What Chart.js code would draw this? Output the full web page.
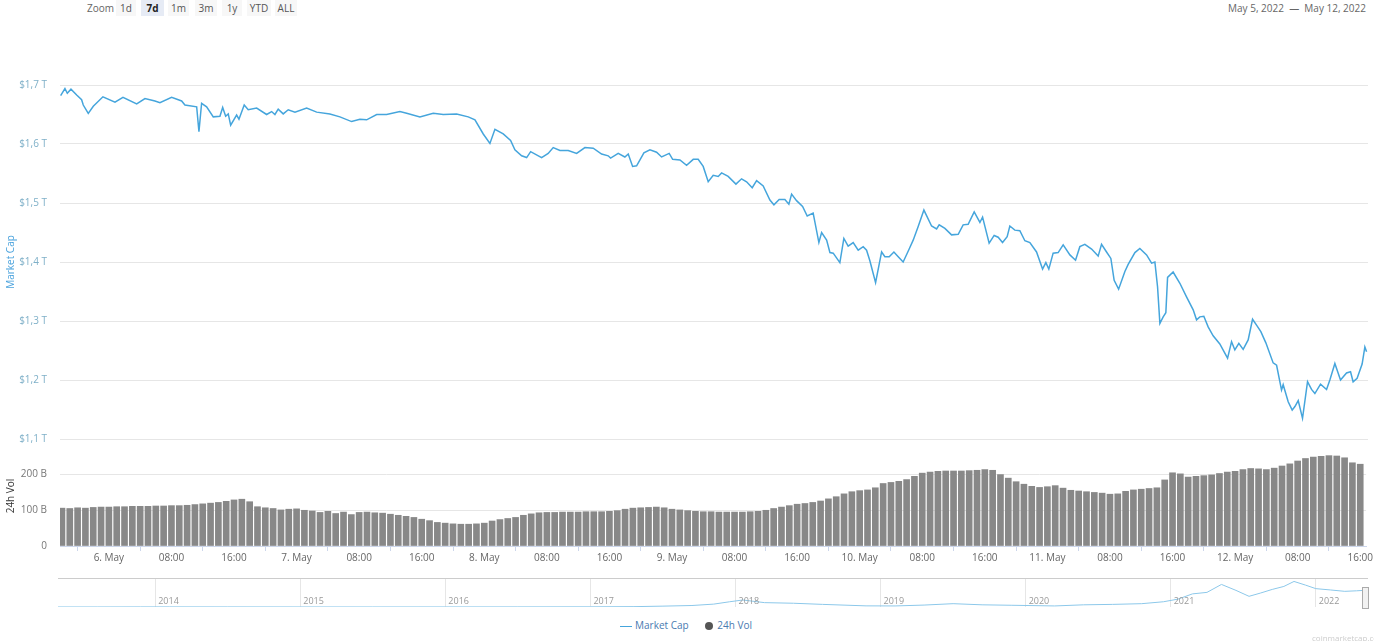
<!DOCTYPE html>
<html>
<head>
<meta charset="utf-8">
<script src="https://cdn.jsdelivr.net/npm/chart.js@4.4.0/dist/chart.umd.min.js"></script>
<style>
  body { margin: 0; background: #fff; font-family: "Open Sans", sans-serif; }
  #wrap { position: relative; width: 1374px; height: 641px; overflow: hidden; }
  canvas { position: absolute; left: 0; }
  .txt { position: absolute; font-size: 10px; color: #666; line-height: 16px; white-space: nowrap; }
  .btn { position: absolute; top: 0; height: 16px; font-size: 10px; line-height: 16px; color: #555;
         background: #f7f7f7; text-align: center; }
  .btn.on { background: #e6ebf5; color: #222; font-weight: bold; }
</style>
</head>
<body>
<div id="wrap">
  <div class="txt" style="left:87px;top:0">Zoom</div>
  <div class="btn" style="left:116px;width:20px">1d</div>
  <div class="btn on" style="left:141px;width:23px">7d</div>
  <div class="btn" style="left:168px;width:21px">1m</div>
  <div class="btn" style="left:195px;width:22px">3m</div>
  <div class="btn" style="left:222px;width:20px">1y</div>
  <div class="btn" style="left:247px;width:24px">YTD</div>
  <div class="btn" style="left:275px;width:22px">ALL</div>
  <div class="txt" style="right:8px;top:0">May 5, 2022 &nbsp;&mdash;&nbsp; May 12, 2022</div>

  <canvas id="capChart" width="1374" height="458" style="top:0"></canvas>
  <canvas id="volChart" width="1374" height="146" style="top:427px"></canvas>
  <canvas id="navChart" width="1374" height="42" style="top:570px"></canvas>

  <div style="position:absolute;left:58px;top:578px;width:1310px;height:1px;background:#ccc"></div>
  <div style="position:absolute;left:1362px;top:587px;width:5px;height:20px;background:#f2f2f2;border:1px solid #aaa"></div>

  <div class="txt" style="left:620px;top:617px;color:#4a7ab0;font-size:10px">
    <span style="display:inline-block;width:12px;height:1.5px;background:#45a5dc;vertical-align:middle;margin-right:3px"></span>Market Cap
    <span style="display:inline-block;width:8px;height:8px;border-radius:4px;background:#555;vertical-align:middle;margin:0 4px 0 14px"></span>24h Vol
  </div>
  <div class="txt" style="left:1312px;top:630px;color:#ccc;font-size:8px">coinmarketcap.com</div>
</div>

<script>
// Market cap, hours counted from 6 May 00:00
var capHours = [
  -6.17, -5.62, -5.32, -4.85, -4.12, -3.49, -3.28, -2.64, -2.00, -0.77,
  0.77, 1.79, 3.54, 4.60, 5.87, 6.51, 8.00, 9.28, 9.70, 11.20,
  11.49, 11.83, 12.47, 13.32, 14.17, 14.52, 14.90, 15.23, 15.54, 16.30,
  16.60, 17.27, 17.78, 18.86, 20.13, 20.77, 21.19, 21.61, 22.25, 22.89,
  23.75, 25.24, 26.52, 28.21, 29.49, 30.98, 32.04, 32.90, 34.18, 35.45,
  37.15, 38.01, 39.70, 41.40, 42.68, 44.39, 45.87, 46.73, 47.79, 48.64,
  49.28, 50.34, 51.28, 51.83, 52.69, 53.33, 53.84, 55.24, 56.08, 56.72,
  57.58, 58.64, 59.71, 60.77, 61.83, 62.90, 63.74, 64.05, 65.02, 65.87,
  66.30, 66.86, 67.37, 68.30, 69.07, 69.92, 70.56, 71.53, 71.97, 72.90,
  73.75, 74.60, 75.23, 75.87, 76.51, 77.15, 77.79, 78.22, 79.06, 80.05,
  80.77, 81.41, 82.13, 82.69, 83.53, 84.39, 84.90, 85.57, 86.30, 86.81,
  87.16, 87.79, 88.56, 89.15, 89.91, 90.64, 90.99, 91.63, 92.05, 92.47,
  93.32, 93.83, 94.38, 95.02, 95.66, 96.30, 96.73, 97.15, 97.88, 98.65,
  99.07, 99.62, 100.22, 100.77, 101.40, 102.17, 102.68, 103.32, 104.05, 105.03,
  105.67, 106.00, 106.73, 107.58, 108.43, 109.06, 109.70, 110.47, 111.20, 111.54,
  112.38, 113.02, 113.53, 114.09, 114.68, 115.02, 115.66, 116.30, 116.94, 117.58,
  118.43, 119.20, 119.62, 120.00, 120.55, 121.19, 121.83, 122.69, 123.41, 123.96,
  124.60, 125.46, 126.30, 126.73, 127.37, 127.92, 128.34, 128.91, 129.71, 130.13,
  130.99, 131.62, 132.48, 133.12, 133.54, 133.88, 134.18, 134.60, 134.94, 135.16,
  135.87, 136.73, 137.58, 138.43, 138.86, 139.28, 139.79, 140.34, 140.98, 141.83,
  142.82, 143.33, 143.75, 144.26, 144.81, 145.45, 146.01, 146.52, 147.07, 147.71,
  148.64, 149.08, 149.71, 149.92, 150.56, 151.07, 151.42, 151.84, 152.39, 153.03,
  153.54, 153.97, 154.69, 155.46, 155.88, 156.52, 157.24, 158.01, 158.52, 158.85,
  159.36, 160.00, 160.35, 160.57
];
// trillions of USD
var marketCap = [
  1.682, 1.694, 1.686, 1.693, 1.683, 1.675, 1.666, 1.652, 1.664, 1.680,
  1.671, 1.679, 1.668, 1.677, 1.673, 1.670, 1.679, 1.673, 1.666, 1.663,
  1.621, 1.669, 1.663, 1.646, 1.647, 1.662, 1.647, 1.651, 1.632, 1.649,
  1.642, 1.666, 1.658, 1.661, 1.650, 1.655, 1.650, 1.659, 1.651, 1.658,
  1.654, 1.661, 1.654, 1.651, 1.646, 1.638, 1.642, 1.641, 1.650, 1.650,
  1.655, 1.652, 1.646, 1.652, 1.650, 1.651, 1.646, 1.641, 1.617, 1.601,
  1.625, 1.617, 1.606, 1.590, 1.580, 1.577, 1.587, 1.577, 1.584, 1.594,
  1.589, 1.589, 1.584, 1.594, 1.593, 1.583, 1.580, 1.576, 1.584, 1.578,
  1.583, 1.562, 1.563, 1.585, 1.590, 1.586, 1.578, 1.584, 1.574, 1.573,
  1.564, 1.574, 1.574, 1.562, 1.536, 1.547, 1.545, 1.551, 1.545, 1.532,
  1.541, 1.536, 1.526, 1.538, 1.529, 1.505, 1.497, 1.506, 1.506, 1.498,
  1.515, 1.504, 1.494, 1.478, 1.483, 1.433, 1.450, 1.437, 1.416, 1.415,
  1.399, 1.440, 1.427, 1.433, 1.420, 1.426, 1.420, 1.402, 1.365, 1.417,
  1.409, 1.409, 1.417, 1.409, 1.400, 1.422, 1.437, 1.460, 1.488, 1.461,
  1.456, 1.463, 1.457, 1.446, 1.447, 1.463, 1.464, 1.485, 1.467, 1.476,
  1.432, 1.445, 1.442, 1.433, 1.443, 1.461, 1.454, 1.453, 1.436, 1.433,
  1.417, 1.388, 1.399, 1.388, 1.415, 1.416, 1.429, 1.412, 1.403, 1.426,
  1.430, 1.422, 1.410, 1.430, 1.417, 1.406, 1.369, 1.354, 1.384, 1.396,
  1.416, 1.423, 1.412, 1.398, 1.400, 1.358, 1.296, 1.307, 1.314, 1.374,
  1.383, 1.364, 1.341, 1.319, 1.302, 1.307, 1.308, 1.290, 1.275, 1.261,
  1.237, 1.265, 1.251, 1.262, 1.252, 1.268, 1.303, 1.293, 1.282, 1.263,
  1.229, 1.225, 1.183, 1.192, 1.163, 1.149, 1.155, 1.165, 1.135, 1.197,
  1.184, 1.177, 1.193, 1.184, 1.200, 1.228, 1.200, 1.212, 1.214, 1.197,
  1.203, 1.227, 1.256, 1.248
];

// hourly 24h volume in billions, first bar at hour -6
var volStartHour = -6;
var volume = [
  106, 105, 107, 106, 108, 109, 109, 110, 110, 111,
  111, 111, 112, 112, 113, 113, 114, 116, 118, 120,
  122, 125, 129, 131, 124, 110, 107, 105, 101, 103,
  104, 100, 98, 94, 97, 91, 95, 88, 94, 95,
  93, 92, 89, 86, 83, 80, 75, 71, 66, 64,
  62, 61, 61, 62, 64, 70, 74, 77, 80, 86,
  90, 93, 94, 94, 95, 95, 95, 96, 96, 96,
  97, 99, 103, 106, 107, 108, 109, 107, 103, 101,
  99, 97, 96, 96, 95, 95, 95, 95, 96, 97,
  100, 105, 109, 113, 117, 119, 122, 126, 132, 138,
  146, 152, 155, 157, 163, 175, 178, 181, 186, 195,
  204, 207, 209, 210, 210, 210, 211, 212, 214, 212,
  200, 190, 180, 173, 167, 164, 166, 169, 162, 156,
  154, 152, 150, 148, 145, 146, 153, 157, 159, 161,
  163, 185, 205, 202, 193, 195, 197, 199, 203, 207,
  209, 214, 217, 216, 214, 218, 224, 230, 238, 245,
  249, 251, 253, 252, 247, 233, 229
];

// x axis ticks every 8 hours
var xTicks = [0, 8, 16, 24, 32, 40, 48, 56, 64, 72, 80, 88, 96, 104, 112, 120, 128, 136, 144, 152, 160];
var capTicks = [1.1, 1.2, 1.3, 1.4, 1.5, 1.6, 1.7];
var volTicks = [0, 100, 200];

// navigator: whole history, decimal years vs trillions
var navYears = [
  2013.33, 2013.6, 2013.9, 2014.1, 2014.5, 2015.0, 2015.5, 2016.0, 2016.5, 2017.0,
  2017.3, 2017.5, 2017.7, 2017.85, 2017.96, 2018.05, 2018.2, 2018.4, 2018.6, 2018.9,
  2019.1, 2019.3, 2019.5, 2019.7, 2019.9, 2020.2, 2020.4, 2020.6, 2020.8, 2020.95,
  2021.05, 2021.15, 2021.25, 2021.35, 2021.45, 2021.54, 2021.62, 2021.7, 2021.78, 2021.85,
  2021.93, 2022.0, 2022.1, 2022.2, 2022.28, 2022.33
];
var navCap = [
  0.002, 0.002, 0.01, 0.012, 0.008, 0.004, 0.003, 0.007, 0.01, 0.018,
  0.04, 0.1, 0.17, 0.33, 0.6, 0.8, 0.5, 0.43, 0.3, 0.13,
  0.12, 0.22, 0.38, 0.25, 0.2, 0.12, 0.25, 0.3, 0.38, 0.6,
  0.9, 1.5, 1.67, 2.58, 1.9, 1.22, 1.6, 2.01, 2.35, 2.92,
  2.5, 2.1, 1.95, 1.79, 1.85, 1.9
];
var navTicks = [2014, 2015, 2016, 2017, 2018, 2019, 2020, 2021, 2022];

var X_MIN = -6.25, X_MAX = 160.75;
var FONT = '"Open Sans", sans-serif';
Chart.defaults.font.family = FONT;
Chart.defaults.font.size = 10;
Chart.defaults.animation = false;

function hourLabel(v) {
  if (v % 24 === 0) return (6 + v / 24) + '. May';
  var hh = ((v % 24) + 24) % 24;
  return (hh < 10 ? '0' : '') + hh + ':00';
}
function fixWidth(scale) { scale.width = 60; }

// Chart 1 - market cap line
// ========================================================================
new Chart(document.getElementById('capChart'), {
  type: 'line',
  data: {
    datasets: [{
      label: 'Market Cap',
      data: capHours.map(function (h, i) { return { x: h, y: marketCap[i] }; }),
      borderColor: '#45a5dc',
      borderWidth: 1.5,
      pointRadius: 0,
      tension: 0,
      fill: false
    }]
  },
  options: {
    responsive: false,
    devicePixelRatio: 1,
    layout: { padding: { top: 85, right: 6, bottom: 0, left: 0 } },
    plugins: { legend: { display: false }, tooltip: { enabled: false } },
    scales: {
      x: { type: 'linear', min: X_MIN, max: X_MAX, display: false },
      y: {
        min: 1.1, max: 1.7,
        afterFit: fixWidth,
        afterBuildTicks: function (s) { s.ticks = capTicks.map(function (v) { return { value: v }; }); },
        border: { display: false },
        grid: { color: '#e6e6e6', drawTicks: false },
        ticks: {
          color: '#7fb0c8', padding: 13,
          callback: function (v) { return '$' + v.toFixed(1).replace('.', ',') + ' T'; }
        },
        title: { display: true, text: 'Market Cap', color: '#4ba3dd', padding: { top: 5, bottom: 0 }, font: { size: 10 } }
      }
    }
  }
});

// Chart 2 - volume bars
// ========================================================================
new Chart(document.getElementById('volChart'), {
  type: 'bar',
  data: {
    datasets: [{
      label: '24h Vol',
      data: volume.map(function (v, i) { return { x: volStartHour + i, y: v }; }),
      backgroundColor: '#888888',
      barThickness: 6
    }]
  },
  options: {
    responsive: false,
    devicePixelRatio: 1,
    layout: { padding: { top: 0, right: 6, bottom: 8, left: 0 } },
    plugins: { legend: { display: false }, tooltip: { enabled: false } },
    scales: {
      x: {
        type: 'linear', min: X_MIN, max: X_MAX, offset: false,
        afterBuildTicks: function (s) { s.ticks = xTicks.map(function (v) { return { value: v }; }); },
        border: { color: '#ccd6eb' },
        grid: { drawOnChartArea: false, tickLength: 5, color: '#ccd6eb' },
        ticks: { color: '#666', padding: 1, maxRotation: 0, autoSkip: false, callback: hourLabel }
      },
      y: {
        min: 0, max: 280,
        afterFit: fixWidth,
        afterBuildTicks: function (s) { s.ticks = volTicks.map(function (v) { return { value: v }; }); },
        border: { display: false },
        grid: { color: '#e6e6e6', drawTicks: false },
        ticks: {
          color: '#777', padding: 13,
          callback: function (v) { return v === 0 ? '0' : v + ' B'; }
        },
        title: { display: true, text: '24h Vol', color: '#333', padding: { top: 5, bottom: 0 }, font: { size: 10 } }
      }
    }
  }
});

// Chart 3 - navigator
// ========================================================================
var yearLabels = {
  id: 'yearLabels',
  afterDraw: function (chart) {
    var ctx = chart.ctx, xs = chart.scales.x;
    ctx.save();
    ctx.font = '9px ' + FONT;
    ctx.fillStyle = '#999';
    ctx.textBaseline = 'middle';
    navTicks.forEach(function (y) {
      ctx.fillText(String(y), xs.getPixelForValue(y) + 3, chart.chartArea.bottom - 6);
    });
    ctx.restore();
  }
};

new Chart(document.getElementById('navChart'), {
  type: 'line',
  data: {
    datasets: [{
      data: navYears.map(function (y, i) { return { x: y, y: navCap[i] }; }),
      borderColor: '#8cc8ea',
      borderWidth: 1,
      pointRadius: 0,
      fill: false
    }]
  },
  options: {
    responsive: false,
    devicePixelRatio: 1,
    layout: { padding: { top: 9, right: 6, bottom: 5, left: 58 } },
    plugins: { legend: { display: false }, tooltip: { enabled: false } },
    scales: {
      x: {
        type: 'linear', min: 2013.33, max: 2022.36,
        afterBuildTicks: function (s) { s.ticks = navTicks.map(function (v) { return { value: v }; }); },
        border: { display: false },
        grid: { color: '#e6e6e6', drawTicks: false },
        ticks: { display: false }
      },
      y: { min: 0, max: 3.2, display: false }
    }
  },
  plugins: [yearLabels]
});
</script>
</body>
</html>
